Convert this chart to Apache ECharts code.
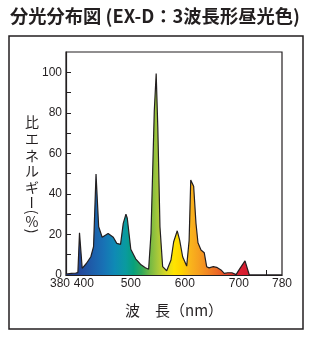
<!DOCTYPE html>
<html><head><meta charset="utf-8">
<script src="https://cdn.jsdelivr.net/npm/echarts@6/dist/echarts.min.js"></script>
<style>html,body{margin:0;padding:0;background:#fff;}#c{width:318px;height:340px;}</style>
</head><body><div id="c"></div>
<script>
// ---- data ----
var wavelengths = [380,390,398,402,405,410,418,426,431,435.6,440.5,447,458,467.6,474,481,486,491,493.5,500,509,519,527,533,537.4,543.5,547,550,554,559,566.5,574.4,579.4,586,590.5,596,603.5,608,611,612.7,616.4,620.7,624.4,630,636,640.5,645,652.8,659,667,673,679.4,687.4,695,701,711.5,719.5,780];
var energy = [0.5,0.8,1,1.2,20.8,3.3,5.8,9,14,49.8,23.8,18.6,20.5,18.6,15.6,15.1,25.5,30,28,12.7,8,5,3.6,2.8,20.5,81,99.4,73,23.8,4.1,2.1,7.4,16.4,21.8,17.2,9,4.4,17,46.8,47.1,43.8,25.5,15.9,12.3,11,4.1,3.5,4.1,3.8,2.5,0.8,1.1,1.1,0.2,2.8,7,0,0];
var xLabelValues = [400,500,600,700,780];
var xMinLabelValues = [380];
var xTickValues = [450,500,550,600,650,700,750];
var yLabelValues = [0,20,40,60,80,100];
var yTickValues = [10,20,30,40,50,60,70,80,90,100];
var titleText = '分光分布図 (EX-D：3波長形昼光色)';
var xName = '波　長（nm）';
var yNameChars = ['比','エ','ネ','ル','ギ','ー','(','%',')'];

var spectrumStops = [
  [380,'#25408c'],[405,'#22479a'],[430,'#1d5fab'],[450,'#1872b5'],[470,'#0f8ab5'],
  [490,'#0a9aa0'],[505,'#07a07c'],[520,'#30a85a'],[535,'#72b844'],[550,'#a8c83a'],
  [565,'#d8d826'],[580,'#ffe400'],[595,'#fed200'],[610,'#f9b51c'],[625,'#f6a11f'],
  [640,'#f28a22'],[660,'#ec6a27'],[680,'#e4432c'],[700,'#da2131'],[720,'#d41a30'],[780,'#d41a30']
];

var chart = echarts.init(document.getElementById('c'));
var ink = '#231f20';
var narrow = '"Liberation Sans Narrow","Liberation Sans",Arial,sans-serif';
var cjk = '"Noto Sans CJK JP","Noto Sans",sans-serif';

var yCenters = [121.5,139,156,171,187.5,202.5,212,221.5,231];
var graphics = [
  {type:'rect', shape:{x:9,y:36,width:294,height:293}, style:{fill:'none', stroke:ink, lineWidth:1.5}, silent:true},
  {type:'text', x:10, y:16, style:{text:titleText, font:'bold 18.3px '+cjk, fill:ink, textVerticalAlign:'middle', textAlign:'left'}}
];
yNameChars.forEach(function(ch,i){
  var rot = 0;
  if (ch==='ー') rot = Math.PI/2;
  if (ch==='(' || ch===')') rot = -Math.PI/2;
  graphics.push({type:'text', x:32, y:yCenters[i], rotation:rot,
    style:{text:ch, font:'14px '+cjk, fill:ink, align:'center', verticalAlign:'middle'}});
});

var lo = spectrumStops[0][0], hi = spectrumStops[spectrumStops.length-1][0];
var grad = new echarts.graphic.LinearGradient(0,0,1,0, spectrumStops.map(function(s){
  return {offset:(s[0]-lo)/(hi-lo), color:s[1]};
}));

chart.setOption({
  animation:false,
  grid:{left:66, top:52, right:36, bottom:65, show:true, borderColor:ink, borderWidth:1.2, backgroundColor:'transparent'},
  xAxis:[{type:'value', min:380, max:780, interval:10,
    name:xName, nameLocation:'middle', nameGap:28,
    nameTextStyle:{fontFamily:cjk, fontSize:15, color:ink},
    axisLine:{show:true, lineStyle:{color:ink, width:1.2}},
    axisTick:{show:true, inside:true, length:5, customValues:xTickValues, lineStyle:{color:ink}},
    splitLine:{show:false},
    axisLabel:{customValues:xLabelValues, margin:3, fontFamily:narrow, fontSize:12, color:ink,
      formatter:function(v){ if(v===400) return '{r|400}'; return String(v); },
      rich:{r:{padding:[0,0,0,14], fontFamily:narrow, fontSize:12, color:ink}}
    }
  },{type:'value', min:380, max:780, interval:10, position:'bottom',
    axisLine:{show:false}, axisTick:{show:false}, splitLine:{show:false},
    axisLabel:{customValues:xMinLabelValues, margin:3, fontFamily:narrow, fontSize:12, color:ink,
      formatter:function(v){ return '{l|'+v+'}'; },
      rich:{l:{padding:[0,12,0,0], fontFamily:narrow, fontSize:12, color:ink}}
    }
  }],
  yAxis:{type:'value', min:0, max:110, interval:10,
    axisLine:{show:true, lineStyle:{color:ink, width:1.2}},
    axisTick:{show:true, inside:true, length:5, customValues:yTickValues, lineStyle:{color:ink}},
    splitLine:{show:false},
    axisLabel:{customValues:yLabelValues, showMinLabel:true, margin:4, fontFamily:narrow, fontSize:12, color:ink}
  },
  graphic:graphics,
  series:[{
    type:'line', showSymbol:false, smooth:false, xAxisIndex:0,
    data:wavelengths.map(function(w,i){return [w, energy[i]];}),
    lineStyle:{color:ink, width:1.2},
    areaStyle:{color:grad, opacity:1}
  }]
});
</script></body></html>
